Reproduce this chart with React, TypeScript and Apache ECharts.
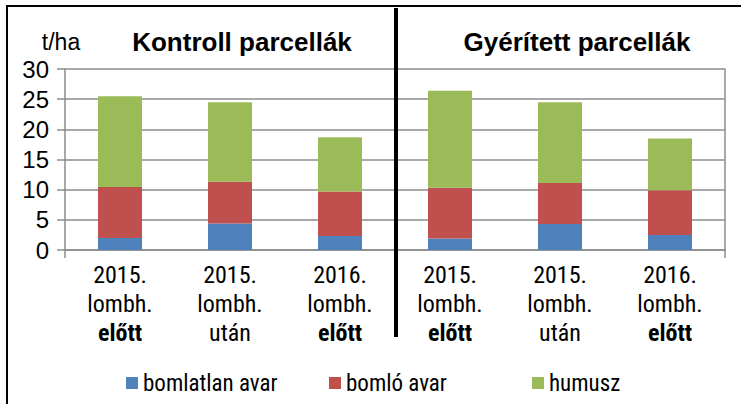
import React, { useEffect, useRef } from "react";
import * as echarts from "echarts";

const categories = [
  "2015.\nlombh.\nelőtt",
  "2015.\nlombh.\nután",
  "2016.\nlombh.\nelőtt",
  "2015.\nlombh.\nelőtt",
  "2015.\nlombh.\nután",
  "2016.\nlombh.\nelőtt",
];
const bomlatlanAvar = [2.0, 4.4, 2.3, 1.9, 4.3, 2.5];
const bomloAvar = [8.45, 6.9, 7.4, 8.4, 6.8, 7.4];
const humusz = [15.05, 13.2, 9.0, 16.1, 13.4, 8.6];
const seriesNames = ["bomlatlan avar", "bomló avar", "humusz"];
const groupTitles = ["Kontroll parcellák", "Gyérített parcellák"];
const unitLabel = "t/ha";

const NARROW = "'Roboto Condensed', 'Liberation Sans', sans-serif";
const WIDE = "'Liberation Sans', Arial, sans-serif";
const GRID = "#8c8c8c";

export default function App() {
  const ref = useRef<HTMLDivElement>(null);
  useEffect(() => {
    if (!ref.current) return;
    const chart = echarts.init(ref.current, undefined, { renderer: "svg" });
    const colors = ["#4F81BD", "#C0504D", "#9BBB59"];
    const data = [bomlatlanAvar, bomloAvar, humusz];
    chart.setOption({
      animation: false,
      textStyle: { fontFamily: NARROW },
      grid: { left: 65, right: 16, top: 69, bottom: 154 },
      legend: {
        left: 121,
        top: 365,
        icon: "rect",
        itemWidth: 12,
        itemHeight: 12,
        itemGap: 6,
        data: seriesNames,
        textStyle: {
          fontFamily: NARROW,
          fontSize: 23,
          color: "#000",
          width: 180,
          lineHeight: 26,
        },
      },
      xAxis: {
        type: "category",
        data: categories,
        axisLine: { show: true, lineStyle: { color: GRID, width: 1.5 } },
        axisTick: {
          show: true,
          length: 8,
          interval: (idx: number) => idx === 0,
          lineStyle: { color: GRID, width: 1.5 },
        },
        axisLabel: {
          interval: 0,
          margin: 10,
          formatter: (v: string) =>
            v
              .split("\n")
              .map((l, i) => (i === 2 && l === "előtt" ? `{b|${l}}` : `{n|${l}}`))
              .join("\n"),
          rich: {
            n: { fontFamily: NARROW, fontSize: 24, lineHeight: 29, color: "#000" },
            b: { fontFamily: NARROW, fontSize: 24, lineHeight: 29, color: "#000", fontWeight: "bold" },
          },
        },
      },
      yAxis: [
        {
          type: "value",
          min: 0,
          max: 30,
          interval: 5,
          axisLine: { show: true, lineStyle: { color: GRID, width: 1.5 } },
          axisTick: { show: true, length: 8, lineStyle: { color: GRID, width: 1.5 } },
          splitLine: { show: true, lineStyle: { color: GRID, width: 1.5 } },
          axisLabel: { fontFamily: WIDE, fontSize: 24, color: "#000", margin: 16 },
        },
        {
          type: "value",
          position: "right",
          min: 0,
          max: 30,
          interval: 5,
          axisLine: { show: true, lineStyle: { color: GRID, width: 1.5 } },
          axisTick: { show: false },
          splitLine: { show: false },
          axisLabel: { show: false },
        },
      ],
      series: seriesNames.map((name, i) => ({
        name,
        type: "bar",
        stack: "total",
        barWidth: "40%",
        yAxisIndex: 0,
        itemStyle: { color: colors[i] },
        data: data[i],
      })),
    });
    const p2 = chart.convertToPixel({ xAxisIndex: 0 }, 2) as number;
    const p3 = chart.convertToPixel({ xAxisIndex: 0 }, 3) as number;
    const sepX = (p2 + p3) / 2 + 1;
    chart.setOption({
      graphic: [
        {
          type: "rect",
          shape: { x: 7, y: 6, width: 1000, height: 1000 },
          style: { fill: "none", stroke: "#000", lineWidth: 2 },
          silent: true,
        },
        {
          type: "line",
          shape: { x1: sepX, y1: 8, x2: sepX, y2: 337 },
          style: { stroke: "#000", lineWidth: 4 },
          z: 10,
          silent: true,
        },
        {
          type: "text",
          x: 242,
          y: 42,
          style: {
            text: groupTitles[0],
            fontFamily: WIDE,
            fontSize: 26,
            fontWeight: "bold",
            fill: "#000",
            align: "center",
            verticalAlign: "middle",
          },
        },
        {
          type: "text",
          x: 577,
          y: 42,
          style: {
            text: groupTitles[1],
            fontFamily: WIDE,
            fontSize: 26,
            fontWeight: "bold",
            fill: "#000",
            align: "center",
            verticalAlign: "middle",
          },
        },
        {
          type: "text",
          x: 61,
          y: 42,
          style: {
            text: unitLabel,
            fontFamily: WIDE,
            fontSize: 23,
            fill: "#000",
            align: "center",
            verticalAlign: "middle",
          },
        },
      ],
    });
    return () => chart.dispose();
  }, []);
  return (
    <div
      ref={ref}
      style={{ position: "fixed", left: 0, top: 0, width: 741, height: 404, background: "#fff" }}
    />
  );
}
